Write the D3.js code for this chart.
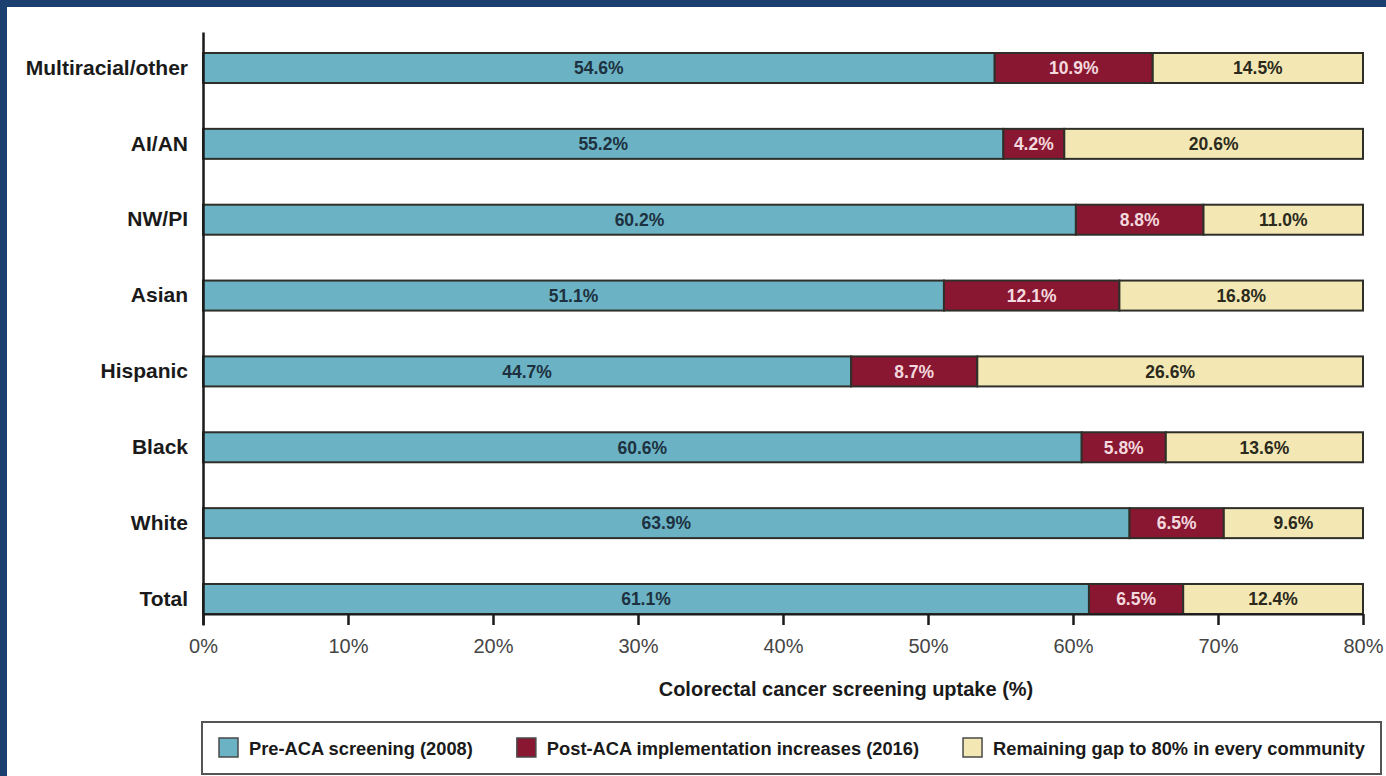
<!DOCTYPE html>
<html>
<head>
<meta charset="utf-8">
<script src="https://cdn.jsdelivr.net/npm/d3@7"></script>
<style>
  body { margin: 0; background: #1b3f6e; }
  svg { display: block; font-family: "Liberation Sans", Arial, sans-serif; }
</style>
</head>
<body>
<div id="chart"></div>
<script>
// Data
const groups = ["Multiracial/other", "AI/AN", "NW/PI", "Asian", "Hispanic", "Black", "White", "Total"];
const preAca = [54.6, 55.2, 60.2, 51.1, 44.7, 60.6, 63.9, 61.1];
const postAca = [10.9, 4.2, 8.8, 12.1, 8.7, 5.8, 6.5, 6.5];
const remainingGap = [14.5, 20.6, 11.0, 16.8, 26.6, 13.6, 9.6, 12.4];
const seriesNames = ["Pre-ACA screening (2008)", "Post-ACA implementation increases (2016)", "Remaining gap to 80% in every community"];
const xTicks = [0, 10, 20, 30, 40, 50, 60, 70, 80];
const xTitle = "Colorectal cancer screening uptake (%)";

const colors = ["#6bb3c4", "#8a1732", "#f3e8b4"];
const labelColors = ["#1d3140", "#f3d9de", "#2b2a1c"];

const W = 1386, H = 776;

const svg = d3.select("#chart")
  .append("svg")
  .attr("width", W)
  .attr("height", H);

// white panel inside the blue frame
svg.append("rect")
  .attr("x", 7).attr("y", 7)
  .attr("width", W - 7).attr("height", H - 7)
  .attr("fill", "#ffffff");

// scales
const x = d3.scaleLinear()
  .domain([0, 80])
  .range([203, 1363]);

const y = d3.scaleBand()
  .domain(groups)
  .range([32, 625])
  .paddingInner(0.6045)
  .paddingOuter(0.211)
  .align(0.656);

// stack the three segments
const rows = groups.map((g, i) => ({ group: g, vals: [preAca[i], postAca[i], remainingGap[i]] }));
const segs = [];
rows.forEach(r => {
  let start = 0;
  r.vals.forEach((v, k) => {
    segs.push({ group: r.group, k: k, x0: start, x1: start + v, value: v });
    start += v;
  });
});

svg.append("g")
  .selectAll("rect")
  .data(segs)
  .enter()
  .append("rect")
  .attr("x", d => x(d.x0))
  .attr("y", d => y(d.group))
  .attr("width", d => x(d.x1) - x(d.x0))
  .attr("height", y.bandwidth())
  .attr("fill", d => colors[d.k])
  .attr("stroke", "#2f2f2a")
  .attr("stroke-width", 2);

// value labels
svg.append("g")
  .selectAll("text")
  .data(segs)
  .enter()
  .append("text")
  .attr("x", d => (x(d.x0) + x(d.x1)) / 2)
  .attr("y", d => y(d.group) + y.bandwidth() / 2)
  .attr("dy", "0.36em")
  .attr("text-anchor", "middle")
  .attr("font-size", 17.5)
  .attr("font-weight", "bold")
  .attr("fill", d => labelColors[d.k])
  .text(d => d.value.toFixed(1) + "%");

// x axis
const xAxis = svg.append("g")
  .attr("transform", `translate(0,${y("Total") + y.bandwidth()})`)
  .call(d3.axisBottom(x)
    .tickValues(xTicks)
    .tickFormat(d => d + "%")
    .tickSize(11)
    .tickSizeOuter(0)
    .tickPadding(14));
xAxis.select(".domain").attr("stroke", "#1a1a1a").attr("stroke-width", 2);
xAxis.selectAll(".tick line").attr("stroke", "#1a1a1a").attr("stroke-width", 2.5);
xAxis.selectAll(".tick text")
  .attr("font-size", 20)
  .attr("font-family", "'Liberation Sans', Arial, sans-serif")
  .attr("fill", "#454545");

// y axis
const yAxis = svg.append("g")
  .attr("transform", `translate(${x(0)},0)`)
  .call(d3.axisLeft(y).tickSize(0).tickSizeOuter(0).tickPadding(15));
yAxis.select(".domain").attr("stroke", "#1a1a1a").attr("stroke-width", 2.5);
yAxis.selectAll(".tick text")
  .attr("font-size", 21)
  .attr("font-weight", "bold")
  .attr("font-family", "'Liberation Sans', Arial, sans-serif")
  .attr("fill", "#1a1a1a");

// x axis title
svg.append("text")
  .attr("x", 846)
  .attr("y", 696)
  .attr("text-anchor", "middle")
  .attr("font-size", 20)
  .attr("font-weight", "bold")
  .attr("fill", "#1a1a1a")
  .text(xTitle);

// legend
const legend = svg.append("g");
legend.append("rect")
  .attr("x", 202).attr("y", 722)
  .attr("width", 1179).attr("height", 52)
  .attr("fill", "#ffffff")
  .attr("stroke", "#555555")
  .attr("stroke-width", 2);

let lx = 219;
seriesNames.forEach((name, k) => {
  legend.append("rect")
    .attr("x", lx).attr("y", 738)
    .attr("width", 19).attr("height", 19)
    .attr("fill", colors[k])
    .attr("stroke", "#4a4a4a")
    .attr("stroke-width", 1.5);
  const t = legend.append("text")
    .attr("x", lx + 30)
    .attr("y", 748)
    .attr("dy", "0.36em")
    .attr("font-size", 18.3)
    .attr("font-weight", "bold")
    .attr("fill", "#1a1a1a")
    .text(name);
  lx += 30 + t.node().getComputedTextLength() + 44;
});
</script>
</body>
</html>
